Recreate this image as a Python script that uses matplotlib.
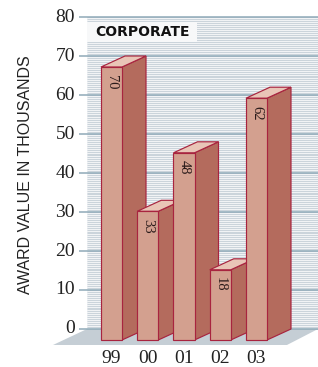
import matplotlib
matplotlib.use('Agg')
import matplotlib.pyplot as plt
import numpy as np
from matplotlib.patches import Polygon, Rectangle
from matplotlib import font_manager

# ---- data ----
categories = ['99', '00', '01', '02', '03']
values = [70, 33, 48, 18, 62]
yticks = [0, 10, 20, 30, 40, 50, 60, 70, 80]
title = 'CORPORATE'
ylabel = 'AWARD VALUE IN THOUSANDS'

# ---- style ----
W, H = 318, 367
FRONT = '#D3A08F'
SIDE = '#B46B5D'
TOP = '#E9C5B7'
EDGE = '#A8243F'
WALL = '#F1F3F5'
STRIPE = '#CAD4DB'
GRID = '#8FAAB8'
FLOOR = '#C5CED5'

names = {f.name for f in font_manager.fontManager.ttflist}
label_font = 'Liberation Sans Narrow' if 'Liberation Sans Narrow' in names else 'Liberation Sans'
label_size = 14 if label_font == 'Liberation Sans Narrow' else 11.5
serif = 'Liberation Serif'

fig = plt.figure(figsize=(W / 100, H / 100), dpi=100)
ax = fig.add_axes([0, 0, 1, 1])
# axis scales: 36.25 px per category, 3.9 px per value unit
ax.set_xlim(-3.076, 5.697)
ax.set_ylim(-9.744, 84.36)
ax.axis('off')

bw = 0.58      # bar front width (category units)
ddx = 0.662    # depth offset x
ddy = 2.82     # depth offset y (value units)
wall_left = -0.676
wall_right = 5.697
ymax = yticks[-1]
elw = 0.85

# back wall
ax.add_patch(Rectangle((wall_left, 0), wall_right - wall_left, ymax,
                       facecolor=WALL, edgecolor='none', zorder=1))
stripe_y = np.arange(0, ymax + 0.01, 0.5)
ax.hlines(stripe_y, wall_left, wall_right, colors=STRIPE, lw=0.7, zorder=2)
ax.hlines(yticks, -0.897, wall_right, colors=GRID, lw=1.1, zorder=3)

# floor
ax.add_patch(Polygon([(-1.614, -4.10), (wall_left, 0), (wall_right, 0), (4.841, -4.10)],
                     closed=True, facecolor=FLOOR, edgecolor='none', zorder=2))

# tick labels
for t in yticks:
    ax.text(-1.01, t, str(t), ha='right', va='center', fontsize=14,
            family=serif, color='#222222', zorder=4)

# bars
for i, (c, v) in enumerate(zip(categories, values)):
    x0, x1 = i - bw / 2, i + bw / 2
    z = 5 + i
    front = Rectangle((x0, -ddy), bw, v, facecolor=FRONT, edgecolor=EDGE, lw=elw,
                      zorder=z + 0.2, joinstyle='miter')
    side = Polygon([(x1, -ddy), (x1 + ddx, 0), (x1 + ddx, v), (x1, v - ddy)], closed=True,
                   facecolor=SIDE, edgecolor=EDGE, lw=elw, zorder=z, joinstyle='miter')
    top = Polygon([(x0, v - ddy), (x0 + ddx, v), (x1 + ddx, v), (x1, v - ddy)], closed=True,
                  facecolor=TOP, edgecolor=EDGE, lw=elw, zorder=z + 0.1, joinstyle='miter')
    ax.add_patch(side)
    ax.add_patch(top)
    ax.add_patch(front)
    ax.annotate(str(v), xy=(i, v - ddy), xytext=(0, -5.5), textcoords='offset points',
                ha='center', va='top', rotation=270, fontsize=10.5, family=serif,
                color='#2a1a1a', zorder=z + 0.5)
    ax.text(i, -7.45, c, ha='center', va='center', fontsize=14, family=serif,
            color='#222222', zorder=4)

# title box
ax.add_patch(Rectangle((wall_left, 73.6), 3.03, 5.1, facecolor='#F7F8F9',
                       edgecolor='none', zorder=4))
ax.text(-0.455, 76.1, title, ha='left', va='center', fontsize=10,
        fontweight='bold', family='DejaVu Sans', color='#111111', zorder=5)

# y label
ax.text(-2.36, 39.5, ylabel, rotation=90, ha='center', va='center',
        fontsize=label_size, family=label_font, color='#222222')

fig.savefig('out.png', dpi=100)
